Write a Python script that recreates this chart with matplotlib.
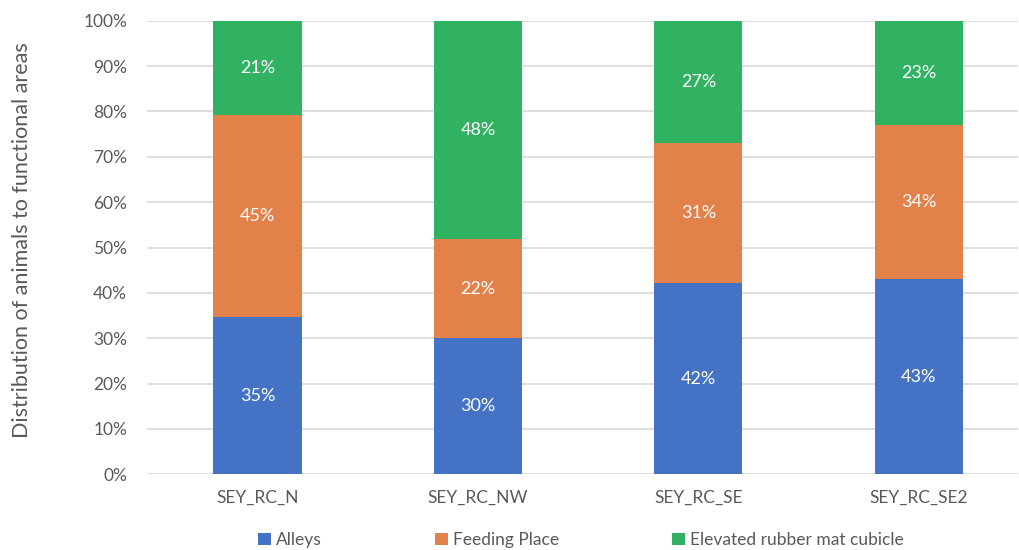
import matplotlib.pyplot as plt
import numpy as np

plt.rcParams['font.family'] = ['Lato', 'DejaVu Sans']

# share of animals per functional area (%)
stations = ['SEY_RC_N', 'SEY_RC_NW', 'SEY_RC_SE', 'SEY_RC_SE2']
alleys = [34.6, 30.0, 42.1, 43.0]
feeding = [44.7, 21.8, 31.0, 33.9]
cubicle = [20.7, 48.2, 26.9, 23.1]
areas = ['Alleys', 'Feeding Place', 'Elevated rubber mat cubicle']
colors = ['#4472C4', '#E3814A', '#31B262']
yticks = np.arange(0, 101, 10)

W, H = 1019, 550
fig = plt.figure(figsize=(W / 100, H / 100), dpi=100)
ax = fig.add_axes([147.3 / W, 75.7 / H, (1018 - 147.3) / W, (474.3 - 20.7) / H])

x = np.arange(len(stations))
bottom = np.zeros(len(stations))
for name, vals, c in zip(areas, [alleys, feeding, cubicle], colors):
    vals = np.array(vals)
    bars = ax.bar(x, vals, 0.4, bottom=bottom, color=c, label=name, zorder=3)
    for xi, b, v in zip(x, bottom, vals):
        ax.text(xi, b + v / 2, f'{v:.0f}%', ha='center', va='center',
                color='white', fontsize=13, zorder=4)
    bottom += vals

ax.set_xlim(-0.5, 3.5 - (1029 - 1018) / 220.6)
ax.set_ylim(0, 100)
ax.set_yticks(yticks)
ax.set_yticklabels([f'{t}%' for t in yticks])
ax.set_xticks(x)
ax.set_xticklabels(stations)
ax.grid(axis='y', color='#D9D9D9', linewidth=1.2, zorder=0)
for s in ax.spines.values():
    s.set_visible(False)
ax.tick_params(length=0, colors='#595959', labelsize=12.5)
ax.tick_params(axis='y', pad=14.5)
ax.tick_params(axis='x', pad=11)

fig.text(22 / W, 1 - 240 / H, 'Distribution of animals to functional areas',
         rotation=90, ha='center', va='center', color='#595959', fontsize=15.5)

leg = fig.legend(loc='center', bbox_to_anchor=(581 / W, 1 - 540 / H), ncol=3,
                 frameon=False, fontsize=12.5, handlelength=0.75, handleheight=0.75,
                 handletextpad=0.3, columnspacing=6.5)
for t in leg.get_texts():
    t.set_color('#595959')

fig.savefig('out.png', dpi=100)
